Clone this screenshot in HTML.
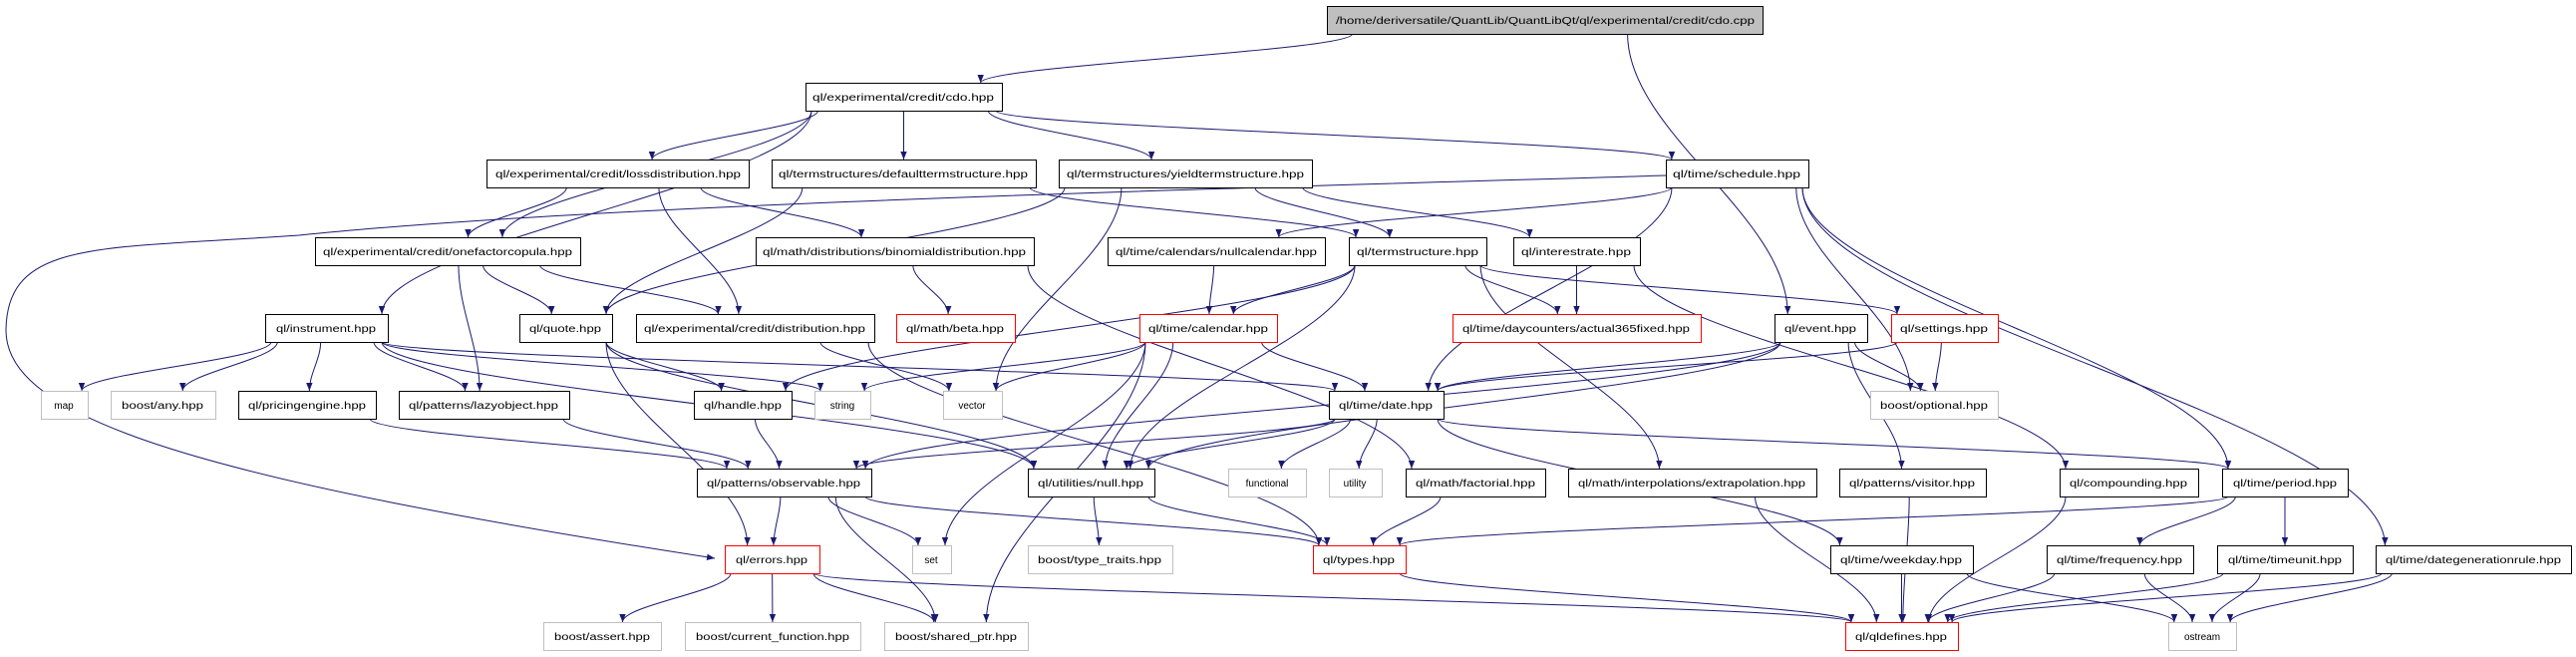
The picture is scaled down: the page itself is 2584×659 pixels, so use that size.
<!DOCTYPE html>
<html><head><meta charset="utf-8"><style>
html,body{margin:0;padding:0;background:#fff;}
svg{display:block;}
text{font-family:"Liberation Sans",sans-serif;font-size:10px;fill:#000;}
</style></head><body>
<svg id="g" width="2584" height="659" viewBox="0 0 2584 659" xmlns="http://www.w3.org/2000/svg">
<defs><marker id="a" viewBox="0 0 10 10" refX="10" refY="5" markerWidth="8" markerHeight="8" markerUnits="userSpaceOnUse" orient="auto"><path d="M0,1 L10,5 L0,9 z" fill="#191970"/></marker></defs>
<g id="edges" fill="none" stroke="#191970" stroke-width="1">
<path d="M1671,176 C1200,190 600,205 300,236 C100,250 8,240 6,330 C4,420 200,480 717,560" marker-end="url(#a)"/>
</g>
<g id="nodes"></g>
</svg>
<script>
var N={
root:[1331,1768,6,"/home/deriversatile/QuantLib/QuantLibQt/ql/experimental/credit/cdo.cpp","r"],
cdo:[808,1005,83,"ql/experimental/credit/cdo.hpp"],
loss:[488,751,160,"ql/experimental/credit/lossdistribution.hpp"],
def:[774,1039,160,"ql/termstructures/defaulttermstructure.hpp"],
yld:[1062,1316,160,"ql/termstructures/yieldtermstructure.hpp"],
sch:[1671,1814,160,"ql/time/schedule.hpp"],
one:[316,582,238,"ql/experimental/credit/onefactorcopula.hpp"],
bin:[758,1037,238,"ql/math/distributions/binomialdistribution.hpp"],
nul:[1111,1329,238,"ql/time/calendars/nullcalendar.hpp"],
ts:[1353,1491,238,"ql/termstructure.hpp"],
ir:[1518,1645,238,"ql/interestrate.hpp"],
ins:[266,389,315,"ql/instrument.hpp"],
quo:[521,614,315,"ql/quote.hpp"],
dis:[638,877,315,"ql/experimental/credit/distribution.hpp"],
beta:[899,1018,315,"ql/math/beta.hpp","red"],
cal:[1143,1281,315,"ql/time/calendar.hpp","red"],
act:[1457,1706,315,"ql/time/daycounters/actual365fixed.hpp","red"],
ev:[1780,1873,315,"ql/event.hpp"],
set:[1897,2004,315,"ql/settings.hpp","red"],
map:[41,88,392,"map","g"],
any:[111,216,392,"boost/any.hpp","g"],
pe:[239,377,392,"ql/pricingengine.hpp"],
lazy:[400,571,392,"ql/patterns/lazyobject.hpp"],
hdl:[696,794,392,"ql/handle.hpp"],
str:[817,873,392,"string","g"],
vec:[946,1005,392,"vector","g"],
date:[1333,1448,392,"ql/time/date.hpp"],
opt:[1876,2004,392,"boost/optional.hpp","g"],
obs:[699,874,470,"ql/patterns/observable.hpp"],
null:[1031,1158,470,"ql/utilities/null.hpp"],
fun:[1232,1310,470,"functional","g"],
util:[1333,1386,470,"utility","g"],
fac:[1410,1550,470,"ql/math/factorial.hpp"],
ext:[1573,1822,470,"ql/math/interpolations/extrapolation.hpp"],
vis:[1845,1992,470,"ql/patterns/visitor.hpp"],
comp:[2066,2205,470,"ql/compounding.hpp"],
per:[2229,2355,470,"ql/time/period.hpp"],
err:[727,822,547,"ql/errors.hpp","red"],
sset:[915,954,547,"set","g"],
tt:[1031,1176,547,"boost/type_traits.hpp","g"],
typ:[1317,1410,547,"ql/types.hpp","red"],
wd:[1836,1979,547,"ql/time/weekday.hpp"],
freq:[2053,2200,547,"ql/time/frequency.hpp"],
tu:[2224,2360,547,"ql/time/timeunit.hpp"],
dg:[2383,2579,547,"ql/time/dategenerationrule.hpp"],
ass:[545,663,624,"boost/assert.hpp","g"],
cf:[687,863,624,"boost/current_function.hpp","g"],
sp:[887,1031,624,"boost/shared_ptr.hpp","g"],
qld:[1851,1964,624,"ql/qldefines.hpp","red"],
ost:[2175,2243,624,"ostream","g"]
};
var E="root>cdo root>ev cdo>ins cdo>one cdo>loss cdo>def cdo>yld cdo>sch loss>one loss>dis loss>bin def>quo def>ts yld>quo yld>vec yld>ts yld>ir sch>nul sch>date sch>opt sch>per sch>dg one>quo one>dis one>lazy bin>beta bin>fac nul>cal ts>hdl ts>cal ts>null ts>act ts>ext ts>set ir>act ir>comp ins>map ins>any ins>pe ins>lazy ins>str ins>date ins>null quo>hdl quo>err quo>null dis>vec dis>typ cal>str cal>vec cal>sset cal>sp cal>date cal>null ev>date ev>null ev>opt ev>vis ev>obs set>date set>opt hdl>obs pe>obs lazy>obs date>null date>fun date>util date>wd date>per date>obs obs>err obs>sset obs>sp obs>typ null>tt null>typ fac>typ ext>qld vis>qld comp>qld per>typ per>freq per>tu wd>qld wd>ost freq>qld freq>ost tu>qld tu>ost dg>qld dg>ost err>ass err>cf err>sp err>qld typ>qld".split(" ");
var ns="http://www.w3.org/2000/svg",eg=document.getElementById("edges"),ng=document.getElementById("nodes");
function clamp(v,a,b){return Math.max(a,Math.min(b,v));}
E.forEach(function(e){var p=e.split(">"),s=N[p[0]],t=N[p[1]];
 var scx=(s[0]+s[1])/2,tcx=(t[0]+t[1])/2;
 var sx=clamp(scx+(tcx-scx)*0.3,s[0]+6,s[1]-6),sy=s[2]+28;
 var tx=clamp(tcx+(scx-tcx)*0.12,t[0]+6,t[1]-6),ty=t[2];
 var dy=ty-sy;
 var path=document.createElementNS(ns,"path");
 path.setAttribute("d","M"+sx+","+sy+" C"+sx+","+(sy+dy*0.35)+" "+tx+","+(ty-dy*0.35)+" "+tx+","+ty);
 path.setAttribute("marker-end","url(#a)");eg.appendChild(path);});
for(var k in N){var n=N[k];var r=document.createElementNS(ns,"rect");
 r.setAttribute("x",n[0]+0.5);r.setAttribute("y",n[2]+0.5);r.setAttribute("width",n[1]-n[0]);r.setAttribute("height",28);
 var st=n[4]=="red"?"#ff0000":n[4]=="g"?"#bfbfbf":"#000";
 r.setAttribute("fill",n[4]=="r"?"#bfbfbf":"#fff");r.setAttribute("stroke",n[4]=="r"?"#000":st);r.setAttribute("stroke-width",1);
 ng.appendChild(r);}
</script>
<svg style="position:absolute;left:0;top:0" width="2584" height="659">
<g text-anchor="middle" font-family="Liberation Sans, sans-serif" font-size="10">
<text x="1550" y="24" textLength="420" lengthAdjust="spacingAndGlyphs">/home/deriversatile/QuantLib/QuantLibQt/ql/experimental/credit/cdo.cpp</text>
<text x="906" y="101" textLength="182" lengthAdjust="spacingAndGlyphs">ql/experimental/credit/cdo.hpp</text>
<text x="620" y="178" textLength="246" lengthAdjust="spacingAndGlyphs">ql/experimental/credit/lossdistribution.hpp</text>
<text x="906" y="178" textLength="250" lengthAdjust="spacingAndGlyphs">ql/termstructures/defaulttermstructure.hpp</text>
<text x="1189" y="178" textLength="238" lengthAdjust="spacingAndGlyphs">ql/termstructures/yieldtermstructure.hpp</text>
<text x="1742" y="178" textLength="128" lengthAdjust="spacingAndGlyphs">ql/time/schedule.hpp</text>
<text x="449" y="256" textLength="250" lengthAdjust="spacingAndGlyphs">ql/experimental/credit/onefactorcopula.hpp</text>
<text x="897" y="256" textLength="264" lengthAdjust="spacingAndGlyphs">ql/math/distributions/binomialdistribution.hpp</text>
<text x="1220" y="256" textLength="202" lengthAdjust="spacingAndGlyphs">ql/time/calendars/nullcalendar.hpp</text>
<text x="1422" y="256" textLength="122" lengthAdjust="spacingAndGlyphs">ql/termstructure.hpp</text>
<text x="1581" y="256" textLength="110" lengthAdjust="spacingAndGlyphs">ql/interestrate.hpp</text>
<text x="327" y="333" textLength="100" lengthAdjust="spacingAndGlyphs">ql/instrument.hpp</text>
<text x="567" y="333" textLength="72" lengthAdjust="spacingAndGlyphs">ql/quote.hpp</text>
<text x="757" y="333" textLength="222" lengthAdjust="spacingAndGlyphs">ql/experimental/credit/distribution.hpp</text>
<text x="958" y="333" textLength="98" lengthAdjust="spacingAndGlyphs">ql/math/beta.hpp</text>
<text x="1212" y="333" textLength="120" lengthAdjust="spacingAndGlyphs">ql/time/calendar.hpp</text>
<text x="1581" y="333" textLength="228" lengthAdjust="spacingAndGlyphs">ql/time/daycounters/actual365fixed.hpp</text>
<text x="1826" y="333" textLength="72" lengthAdjust="spacingAndGlyphs">ql/event.hpp</text>
<text x="1950" y="333" textLength="88" lengthAdjust="spacingAndGlyphs">ql/settings.hpp</text>
<text x="64" y="410">map</text>
<text x="163" y="410" textLength="82" lengthAdjust="spacingAndGlyphs">boost/any.hpp</text>
<text x="308" y="410" textLength="118" lengthAdjust="spacingAndGlyphs">ql/pricingengine.hpp</text>
<text x="485" y="410" textLength="150" lengthAdjust="spacingAndGlyphs">ql/patterns/lazyobject.hpp</text>
<text x="745" y="410" textLength="78" lengthAdjust="spacingAndGlyphs">ql/handle.hpp</text>
<text x="845" y="410">string</text>
<text x="975" y="410">vector</text>
<text x="1390" y="410" textLength="94" lengthAdjust="spacingAndGlyphs">ql/time/date.hpp</text>
<text x="1940" y="410" textLength="108" lengthAdjust="spacingAndGlyphs">boost/optional.hpp</text>
<text x="786" y="488" textLength="154" lengthAdjust="spacingAndGlyphs">ql/patterns/observable.hpp</text>
<text x="1094" y="488" textLength="106" lengthAdjust="spacingAndGlyphs">ql/utilities/null.hpp</text>
<text x="1271" y="488">functional</text>
<text x="1359" y="488">utility</text>
<text x="1480" y="488" textLength="120" lengthAdjust="spacingAndGlyphs">ql/math/factorial.hpp</text>
<text x="1697" y="488" textLength="228" lengthAdjust="spacingAndGlyphs">ql/math/interpolations/extrapolation.hpp</text>
<text x="1918" y="488" textLength="126" lengthAdjust="spacingAndGlyphs">ql/patterns/visitor.hpp</text>
<text x="2135" y="488" textLength="118" lengthAdjust="spacingAndGlyphs">ql/compounding.hpp</text>
<text x="2292" y="488" textLength="104" lengthAdjust="spacingAndGlyphs">ql/time/period.hpp</text>
<text x="774" y="565" textLength="72" lengthAdjust="spacingAndGlyphs">ql/errors.hpp</text>
<text x="934" y="565">set</text>
<text x="1103" y="565" textLength="124" lengthAdjust="spacingAndGlyphs">boost/type_traits.hpp</text>
<text x="1363" y="565" textLength="72" lengthAdjust="spacingAndGlyphs">ql/types.hpp</text>
<text x="1907" y="565" textLength="122" lengthAdjust="spacingAndGlyphs">ql/time/weekday.hpp</text>
<text x="2126" y="565" textLength="126" lengthAdjust="spacingAndGlyphs">ql/time/frequency.hpp</text>
<text x="2292" y="565" textLength="114" lengthAdjust="spacingAndGlyphs">ql/time/timeunit.hpp</text>
<text x="2481" y="565" textLength="176" lengthAdjust="spacingAndGlyphs">ql/time/dategenerationrule.hpp</text>
<text x="604" y="642" textLength="96" lengthAdjust="spacingAndGlyphs">boost/assert.hpp</text>
<text x="775" y="642" textLength="154" lengthAdjust="spacingAndGlyphs">boost/current_function.hpp</text>
<text x="959" y="642" textLength="122" lengthAdjust="spacingAndGlyphs">boost/shared_ptr.hpp</text>
<text x="1907" y="642" textLength="92" lengthAdjust="spacingAndGlyphs">ql/qldefines.hpp</text>
<text x="2209" y="642">ostream</text>
</g></svg>
</body></html>
